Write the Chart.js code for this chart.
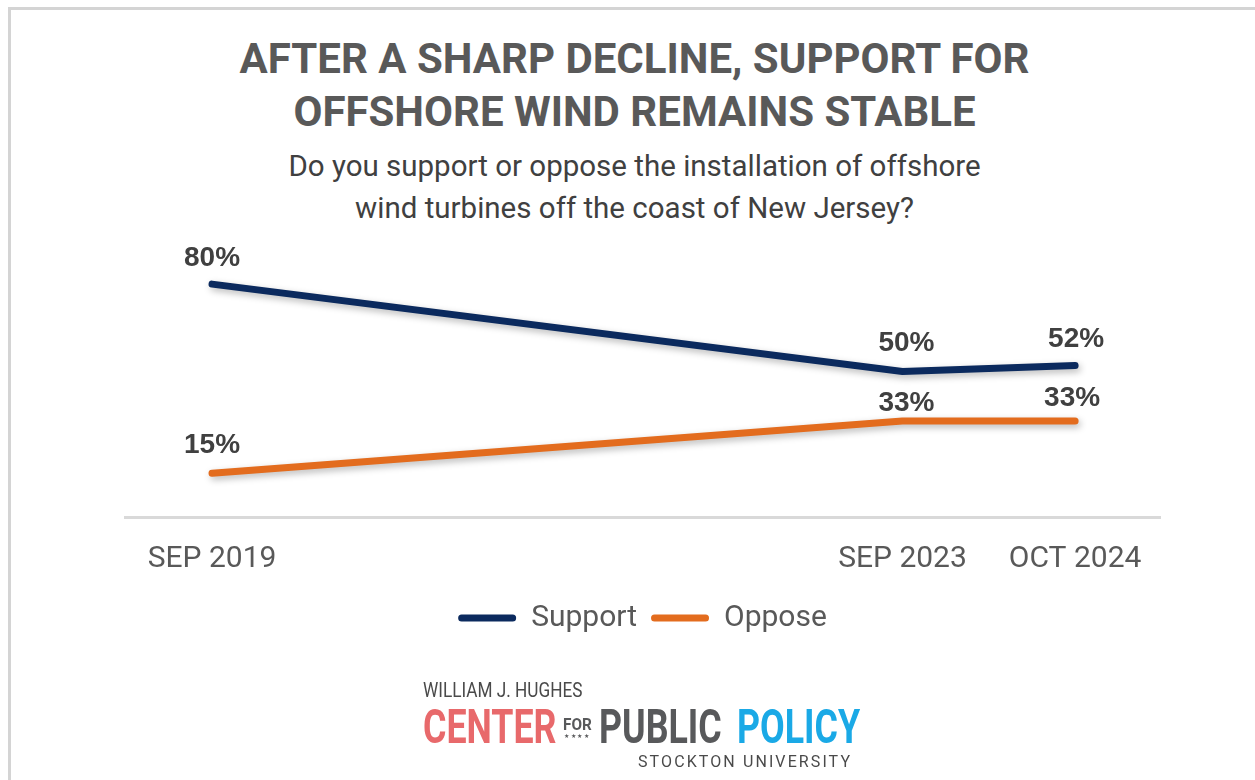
<!DOCTYPE html>
<html>
<head>
<meta charset="utf-8">
<script src="https://cdn.jsdelivr.net/npm/chart.js@4.4.1/dist/chart.umd.min.js"></script>
<style>
    html, body { margin: 0; padding: 0; background: #fff; overflow: hidden; }
    body { width: 1255px; height: 780px; position: relative; font-family: Roboto, "Liberation Sans", sans-serif; }
    .frame { position: absolute; left: 8px; top: 7px; width: 1300px; height: 800px;
             border-top: 3px solid #d4d4d4; border-left: 3px solid #d4d4d4; }
    .line { position: absolute; left: 7px; width: 1255px; text-align: center; line-height: 1; white-space: nowrap; }
    .title { font-weight: bold; font-size: 42px; color: #595959; }
    .sub { font-size: 29.5px; color: #404040; }
    .logo { position: absolute; line-height: 1; white-space: nowrap; transform-origin: left top; }
    .big { font-weight: bold; font-size: 49px; transform: scaleX(0.73); }
    #wrap { position: absolute; left: 0; top: 0; width: 1255px; height: 780px; }
</style>
</head>
<body>
<div class="frame"></div>

<div class="line title" style="top:37.6px">AFTER A SHARP DECLINE, SUPPORT FOR</div>
<div class="line title" style="top:90.6px">OFFSHORE WIND REMAINS STABLE</div>
<div class="line sub" style="top:152px">Do you support or oppose the installation of offshore</div>
<div class="line sub" style="top:194px">wind turbines off the coast of New Jersey?</div>

<div id="wrap"><canvas id="lineChart" width="1255" height="780"></canvas></div>

<div class="logo" style="left:423px; top:680px; font-size:20px; color:#4a4a4a; transform:scaleX(0.86)">WILLIAM J. HUGHES</div>
<div class="logo big" style="left:423px; top:702px; color:#e8696b">CENTER</div>
<div class="logo" style="left:563px; top:716px; font-size:17px; font-weight:bold; color:#58595b; transform:scaleX(0.9)">FOR</div>
<div class="logo" style="left:564px; top:733px; font-size:6px; letter-spacing:1.5px; color:#58595b">★★★★</div>
<div class="logo big" style="left:599px; top:702px; color:#58595b">PUBLIC</div>
<div class="logo big" style="left:737px; top:702px; color:#1aa9e6">POLICY</div>
<div class="logo" style="left:638px; top:753.5px; font-size:16px; letter-spacing:2.1px; color:#4a4a4a">STOCKTON UNIVERSITY</div>

<script>
// Survey waves (x = approx. months after the Sep 2019 poll)
const waveLabels = ['SEP 2019', 'SEP 2023', 'OCT 2024'];
const waveMonths = [0, 48.8, 61];

// Percent of respondents
const supportValues = [80, 50, 52];
const opposeValues = [15, 33, 33];

const seriesNames = ['Support', 'Oppose'];
const seriesColors = ['#0b2a5e', '#e36c1e'];

const toPoints = vals => vals.map((v, i) => ({ x: waveMonths[i], y: v }));

// soft drop shadow under the lines
const lineShadow = {
    id: 'lineShadow',
    beforeDatasetDraw(chart) {
        const ctx = chart.ctx;
        ctx.save();
        ctx.shadowColor = 'rgba(0,0,0,0.28)';
        ctx.shadowBlur = 7;
        ctx.shadowOffsetX = 2;
        ctx.shadowOffsetY = 3;
    },
    afterDatasetDraw(chart) {
        chart.ctx.restore();
    }
};

// value labels above each point
const pointLabels = {
    id: 'pointLabels',
    afterDatasetsDraw(chart, args, opts) {
        const ctx = chart.ctx;
        ctx.save();
        ctx.font = opts.font;
        ctx.fillStyle = opts.color;
        ctx.textAlign = 'center';
        ctx.textBaseline = 'middle';
        chart.data.datasets.forEach((ds, i) => {
            const meta = chart.getDatasetMeta(i);
            meta.data.forEach((pt, j) => {
                ctx.fillText(ds.data[j].y + '%', pt.x + opts.shiftX[i][j], pt.y - opts.offsets[i][j]);
            });
        });
        ctx.restore();
    }
};

const ctx = document.getElementById('lineChart');
new Chart(ctx, {
    type: 'line',
    data: {
        datasets: [
            { label: seriesNames[0], data: toPoints(supportValues) },
            { label: seriesNames[1], data: toPoints(opposeValues) }
        ].map((ds, i) => Object.assign(ds, {
            borderColor: seriesColors[i],
            backgroundColor: seriesColors[i],
            borderWidth: 7,
            borderCapStyle: 'round',
            borderJoinStyle: 'round',
            pointRadius: 0,
            tension: 0
        }))
    },
    options: {
        responsive: false,
        animation: false,
        devicePixelRatio: 1,
        layout: { padding: { left: 125, right: 95, top: 255, bottom: 137 } },
        scales: {
            x: {
                type: 'linear',
                min: -6.15,
                max: 67,
                afterBuildTicks: axis => { axis.ticks = waveMonths.map(v => ({ value: v })); },
                afterFit: axis => { axis.height -= 12; },
                grid: { display: false, drawTicks: false },
                border: { display: true, color: '#d9d9d9', width: 3 },
                ticks: {
                    autoSkip: false,
                    maxRotation: 0,
                    padding: 24,
                    color: '#595959',
                    font: { family: 'Roboto', size: 30 },
                    callback: value => waveLabels[waveMonths.indexOf(value)]
                }
            },
            y: {
                display: false,
                min: 0,
                max: 90
            }
        },
        plugins: {
            legend: {
                position: 'bottom',
                labels: {
                    boxWidth: 58,
                    boxHeight: 7,
                    padding: 14,
                    color: '#595959',
                    font: { family: 'Roboto', size: 30 },
                    useBorderRadius: true,
                    borderRadius: 3.5,
                    generateLabels: chart => Chart.defaults.plugins.legend.labels.generateLabels(chart)
                        .map(item => Object.assign(item, { lineWidth: 0, fillStyle: item.strokeStyle }))
                }
            },
            tooltip: { enabled: false },
            pointLabels: {
                font: 'bold 28px "Liberation Sans"',
                color: '#404040',
                offsets: [[26, 28, 26.5], [28, 17.5, 22.5]],
                shiftX: [[0, 4, 1], [0, 4, -3]]
            }
        }
    },
    plugins: [lineShadow, pointLabels]
});
</script>
</body>
</html>
